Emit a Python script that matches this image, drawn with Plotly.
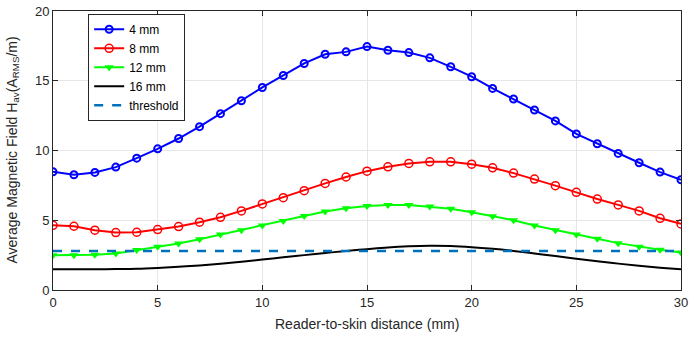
import plotly.graph_objects as go

x = list(range(31))
h_4mm = [8.48, 8.26, 8.43, 8.81, 9.45, 10.12, 10.86, 11.71, 12.64, 13.57, 14.52, 15.38, 16.24, 16.9, 17.07, 17.45,
         17.19, 17.02, 16.64, 16.0, 15.29, 14.45, 13.69, 12.9, 12.12, 11.19, 10.48, 9.79, 9.12, 8.45, 7.9]
h_8mm = [4.64, 4.57, 4.29, 4.12, 4.14, 4.33, 4.55, 4.86, 5.21, 5.67, 6.17, 6.62, 7.12, 7.64, 8.1, 8.52,
         8.83, 9.07, 9.19, 9.19, 9.02, 8.76, 8.38, 7.95, 7.48, 7.0, 6.52, 6.1, 5.67, 5.14, 4.74]
h_12mm = [2.5, 2.5, 2.52, 2.62, 2.86, 3.1, 3.33, 3.64, 3.98, 4.29, 4.62, 4.95, 5.31, 5.62, 5.86, 6.02,
          6.1, 6.1, 5.98, 5.83, 5.57, 5.29, 5.0, 4.62, 4.29, 3.98, 3.67, 3.36, 3.1, 2.88, 2.69]
h_16mm = [1.48, 1.48, 1.49, 1.5, 1.52, 1.58, 1.66, 1.76, 1.88, 2.02, 2.18, 2.34, 2.5, 2.65, 2.8, 2.93,
          3.05, 3.13, 3.17, 3.15, 3.07, 2.95, 2.8, 2.62, 2.43, 2.24, 2.06, 1.89, 1.74, 1.6, 1.48]
threshold = 2.8

FONT = "Liberation Sans, Arial"
TXT = "#262626"

fig = go.Figure()
fig.add_trace(go.Scatter(x=x, y=h_4mm, name="4 mm", mode="lines+markers",
                         line=dict(color="#0000FF", width=2),
                         marker=dict(symbol="circle-open", size=7, color="#0000FF", line=dict(width=2))))
fig.add_trace(go.Scatter(x=x, y=h_8mm, name="8 mm", mode="lines+markers",
                         line=dict(color="#FF0000", width=2),
                         marker=dict(symbol="circle-open", size=8, color="#FF0000", line=dict(width=1.5))))
fig.add_trace(go.Scatter(x=x, y=h_12mm, name="12 mm", mode="lines+markers",
                         line=dict(color="#00FF00", width=2),
                         marker=dict(symbol="triangle-down", size=8, color="#00FF00")))
fig.add_trace(go.Scatter(x=x, y=h_16mm, name="16 mm", mode="lines",
                         line=dict(color="#000000", width=2, shape="spline")))
fig.add_trace(go.Scatter(x=[x[0], x[-1]], y=[threshold, threshold], name="threshold", mode="lines",
                         line=dict(color="#0072BD", width=2.5, dash="dash")))

axis_common = dict(showline=True, linecolor=TXT, linewidth=1, mirror="allticks",
                   ticks="inside", ticklen=5, tickcolor=TXT, automargin=False,
                   showgrid=True, gridcolor="#E6E6E6", zeroline=False,
                   tickfont=dict(family=FONT, size=13, color=TXT))

fig.update_xaxes(range=[0, 30], dtick=5, **axis_common)
fig.update_yaxes(range=[0, 20], dtick=5, **axis_common)

fig.add_annotation(text="Reader-to-skin distance (mm)", xref="paper", yref="paper",
                   x=0.5, y=0, yshift=-24, xanchor="center", yanchor="top", showarrow=False,
                   font=dict(family=FONT, size=14, color=TXT))
fig.add_annotation(text="Average Magnetic Field H<sub>av</sub>(A<sub>RMS</sub>/m)", xref="paper", yref="paper",
                   x=0, y=0.5, xshift=-41, xanchor="center", yanchor="middle", textangle=-90, showarrow=False,
                   font=dict(family=FONT, size=14, color=TXT))

fig.update_layout(
    width=698, height=337,
    margin=dict(l=53, r=17, t=11, b=47, autoexpand=False),
    paper_bgcolor="white", plot_bgcolor="white",
    showlegend=True,
    legend=dict(x=0.056, y=0.99, xanchor="left", yanchor="top",
                bgcolor="white", bordercolor=TXT, borderwidth=1,
                font=dict(family=FONT, size=12, color="#000000"),
                tracegroupgap=0, itemwidth=30),
    font=dict(family=FONT),
)

fig.write_html("out.html", config={"displayModeBar": False},
               post_script="document.body.style.margin='0px';document.body.style.overflow='hidden';")
